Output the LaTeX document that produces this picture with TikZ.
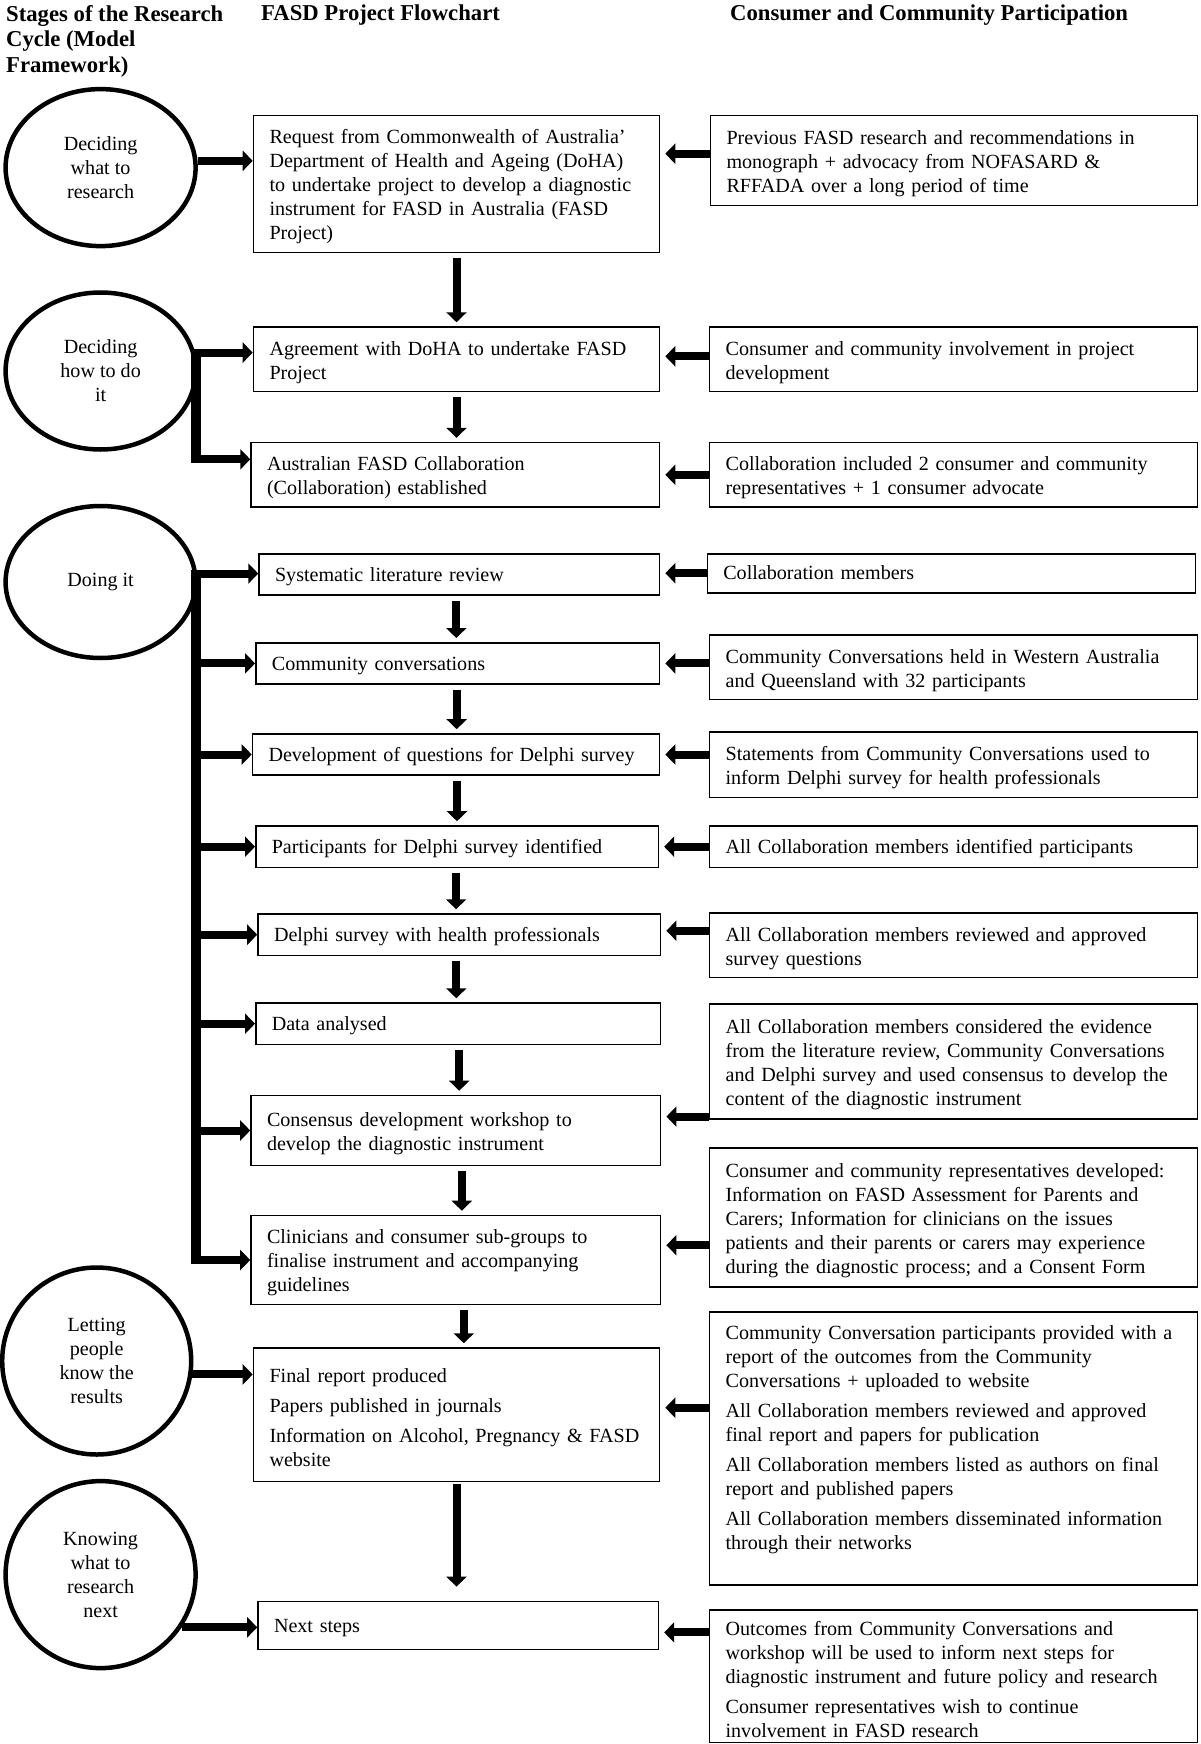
\documentclass[tikz,border=0pt]{standalone}
\usepackage{fontspec}
\setmainfont{Liberation Serif}
\usepackage{tikz}
\usetikzlibrary{shapes,arrows.meta,positioning,calc}
\newcommand{\bodyfont}{\fontsize{20.1}{24}\selectfont}
\newcommand{\headfont}{\fontsize{22.7}{25.6}\selectfont\bfseries}

\begin{document}
\begin{tikzpicture}[x=1pt, y=-1pt,
        head/.style={anchor=north west, inner sep=0pt, align=left, font=\headfont},
        stage/.style={ellipse, draw, line width=4.5pt, minimum width=190pt, minimum height=157pt, inner sep=0pt, align=center, font=\bodyfont},
        flow/.style={rectangle, draw, line width=1.6pt, inner xsep=16pt, inner ysep=0pt, align=left, font=\bodyfont, execute at begin node={\rule{0pt}{20pt}}},
        oneline/.style={text height=18pt, text depth=4.5pt},
        part/.style={flow, text width=456pt},
        arrow/.style={-{Triangle[length=10pt, width=20pt]}, line width=8pt},
        back/.style={arrow, shorten >=5pt},
        spine/.style={line width=9.5pt}
    ]
        \useasboundingbox (0,0) rectangle (1200,1744);

        \node[head] (hstage) at (6,5) {Stages of the Research\\Cycle (Model\\Framework)};
        \node[head] (hflow) at (261,5) {FASD Project Flowchart};
        \node[head] (hpart) at (730,5) {Consumer and Community Participation};

        \node[stage] (e1) at (100.6,167.6) {Deciding\\what to\\research};
        \node[stage] (e2) at (100.6,371) {Deciding\\how to do\\it};
        \node[stage, minimum height=152pt] (e3) at (100.6,582) {Doing it};
        \node[stage, minimum width=189pt, minimum height=187pt] (e4) at (96.7,1361) {Letting\\people\\know the\\results};
        \node[stage, minimum height=187pt] (e5) at (100.6,1574.6) {Knowing\\what to\\research\\next};

        \node[flow, text width=374pt, minimum height=136.7pt] (m1) at (456.5,184) {Request from Commonwealth of Australia'\\Department of Health and Ageing (DoHA)\\to undertake project to develop a diagnostic\\instrument for FASD in Australia (FASD\\Project)};
        \node[flow, text width=374pt, minimum height=64.5pt] (m2) at (456.5,359.3) {Agreement with DoHA to undertake FASD\\Project};
        \node[flow, text width=376.5pt, minimum height=64.4pt] (m3) at (455.3,474.8) {Australian FASD Collaboration\\(Collaboration) established};
        \node[flow, oneline, text width=368.5pt, minimum height=41.2pt] (m4) at (459.3,574.4) {Systematic literature review};
        \node[flow, oneline, text width=371.7pt, minimum height=41.2pt] (m5) at (457.7,663.4) {Community conversations};
        \node[flow, oneline, text width=375pt, minimum height=41pt] (m6) at (456,754.5) {Development of questions for Delphi survey};
        \node[flow, oneline, text width=370.6pt, minimum height=41.4pt] (m7) at (457.1,846.7) {Participants for Delphi survey identified};
        \node[flow, oneline, text width=370.6pt, minimum height=41.3pt] (m8) at (459.3,934.7) {Delphi survey with health professionals};
        \node[flow, oneline, text width=372.8pt, minimum height=41.3pt] (m9) at (458.2,1023.7) {Data analysed};
        \node[flow, text width=377.6pt, minimum height=70pt] (m10) at (455.8,1130.5) {Consensus development workshop to\\develop the diagnostic instrument};
        \node[flow, text width=377.6pt, minimum height=89pt] (m11) at (455.8,1260) {Clinicians and consumer sub-groups to\\finalise instrument and accompanying\\guidelines};
        \node[flow, text width=374pt, minimum height=133.3pt] (m12) at (456.5,1414.7) {Final report produced\\[6pt]Papers published in journals\\[6pt]Information on Alcohol, Pregnancy \& FASD\\website};
        \node[flow, oneline, text width=368.4pt, minimum height=48pt] (m13) at (458.2,1625.4) {Next steps};

        \node[part, text width=455pt, minimum height=90pt] (r1) at (954,160.7) {Previous FASD research and recommendations in\\monograph + advocacy from NOFASARD \&\\RFFADA over a long period of time};
        \node[part, minimum height=64.5pt] (r2) at (953.6,359.3) {Consumer and community involvement in project\\development};
        \node[part, minimum height=64.4pt] (r3) at (953.6,474.8) {Collaboration included 2 consumer and community\\representatives + 1 consumer advocate};
        \node[part, oneline, minimum height=39pt] (r4) at (951.3,573.2) {Collaboration members};
        \node[part, minimum height=64.5pt] (r5) at (953.6,667.3) {Community Conversations held in Western Australia\\and Queensland with 32 participants};
        \node[part, minimum height=65.6pt] (r6) at (953.6,764.6) {Statements from Community Conversations used to\\inform Delphi survey for health professionals};
        \node[part, oneline, minimum height=41.4pt] (r7) at (953.6,846.7) {All Collaboration members identified participants};
        \node[part, minimum height=64.5pt] (r8) at (953.6,945.3) {All Collaboration members reviewed and approved\\survey questions};
        \node[part, minimum height=114.8pt] (r9) at (953.6,1061.4) {All Collaboration members considered the evidence\\from the literature review, Community Conversations\\and Delphi survey and used consensus to develop the\\content of the diagnostic instrument};
        \node[part, minimum height=139pt] (r10) at (953.6,1217.2) {Consumer and community representatives developed:\\Information on FASD Assessment for Parents and\\Carers; Information for clinicians on the issues\\patients and their parents or carers may experience\\during the diagnostic process; and a Consent Form};
        \node[part, minimum height=272.7pt] (r12) at (953.6,1448.4) {Community Conversation participants provided with a\\report of the outcomes from the Community\\Conversations + uploaded to website\\[6pt]All Collaboration members reviewed and approved\\final report and papers for publication\\[6pt]All Collaboration members listed as authors on final\\report and published papers\\[6pt]All Collaboration members disseminated information\\through their networks\rule[-28pt]{0pt}{28pt}};
        \node[part, minimum height=132.6pt] (r13) at (953.6,1676.3) {Outcomes from Community Conversations and\\workshop will be used to inform next steps for\\diagnostic instrument and future policy and research\\[6pt]Consumer representatives wish to continue\\involvement in FASD research};

        \coordinate (sp2) at (196,353);
        \coordinate (sp2b) at (196,459.3);
        \coordinate (sp3) at (196,574);

        \draw[arrow] (e1.4) -- (e1.4 -| m1.west);
        \draw[arrow] (e2.11) -- (e2.11 -| m2.west);
        \draw[spine] ([yshift=4pt]sp2) -- ([yshift=-4pt]sp2b);
        \draw[arrow] (sp2b) -- (sp2b -| m3.west);
        \draw[arrow] (e3.5) -- (e3.5 -| m4.west);
        \draw[spine] ([yshift=4pt]sp3) -- ([yshift=-4pt]sp3 |- m11.west);
        \foreach \n in {m5,m6,m7,m8,m9,m10,m11}
            \draw[arrow] (sp3 |- \n.west) -- (\n.west);
        \draw[arrow] (e4.-8) -- (e4.-8 -| m12.west);
        \draw[arrow] (e5.-33) -- (e5.-33 -| m13.west);

        \foreach \a/\b/\dx in {m1/m2/0, m2/m3/0, m4/m5/-3, m5/m6/-1, m6/m7/1, m7/m8/-1, m8/m9/-3, m9/m10/1, m10/m11/6, m11/m12/8}
            \draw[arrow, shorten <=5pt, shorten >=4pt] ([xshift=\dx pt]\a.south) -- ([xshift=\dx pt]\a.south |- \b.north);
        \draw[arrow, shorten <=2pt, shorten >=14pt] (m12.south) -- (m12.south |- m13.north);

        \draw[back] ([yshift=7pt]r1.west) -- ([yshift=7pt]r1.west -| m1.east);
        \draw[back] ([yshift=3pt]r2.west) -- ([yshift=3pt]r2.west -| m2.east);
        \draw[back] (r3.west) -- (r3.west -| m3.east);
        \draw[back] (r4.west) -- (r4.west -| m4.east);
        \draw[back] (m5.east -| r5.west) -- (m5.east);
        \draw[back] (m6.east -| r6.west) -- (m6.east);
        \draw[back] (r7.west) -- (r7.west -| m7.east);
        \draw[back] ([yshift=4pt]m8.east -| r8.west) -- ([yshift=4pt]m8.east);
        \draw[back] ([yshift=3pt]r9.south west) -- ([yshift=3pt]r9.south west -| m10.east);
        \draw[back] ([yshift=-28pt]r10.west) -- ([yshift=-28pt]r10.west -| m11.east);
        \draw[back] ([yshift=7pt]m12.east -| r12.west) -- ([yshift=7pt]m12.east);
        \draw[back] ([yshift=-7pt]m13.east -| r13.west) -- ([yshift=-7pt]m13.east);
    \end{tikzpicture}
\end{document}
